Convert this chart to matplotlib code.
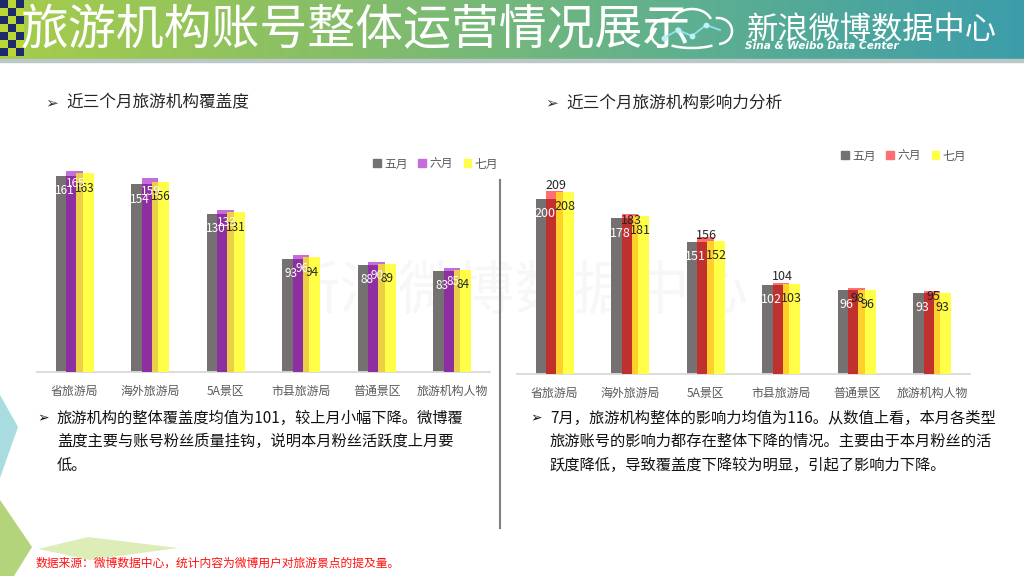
import numpy as np
import matplotlib
matplotlib.use("Agg")
import matplotlib.pyplot as plt
from matplotlib.patches import Polygon, Rectangle, Patch, Arc
from matplotlib.colors import LinearSegmentedColormap

plt.rcParams['font.family'] = ['Noto Sans CJK SC', 'DejaVu Sans']

# ---------------- data ----------------
categories = ['省旅游局', '海外旅游局', '5A景区', '市县旅游局', '普通景区', '旅游机构人物']
months = ['五月', '六月', '七月']
coverage_may = [161, 154, 130, 93, 88, 83]
coverage_jun = [165, 159, 133, 96, 90, 85]
coverage_jul = [163, 156, 131, 94, 89, 84]
influence_may = [200, 178, 151, 102, 96, 93]
influence_jun = [209, 183, 156, 104, 98, 95]
influence_jul = [208, 181, 152, 103, 96, 93]

title = '旅游机构账号整体运营情况展示'
left_sub = '近三个月旅游机构覆盖度'
right_sub = '近三个月旅游机构影响力分析'
left_lines = ['旅游机构的整体覆盖度均值为101，较上月小幅下降。微博覆',
              '盖度主要与账号粉丝质量挂钩，说明本月粉丝活跃度上月要',
              '低。']
right_lines = ['7月，旅游机构整体的影响力均值为116。从数值上看，本月各类型',
               '旅游账号的影响力都存在整体下降的情况。主要由于本月粉丝的活',
               '跃度降低，导致覆盖度下降较为明显，引起了影响力下降。']
footer = '数据来源：微博数据中心，统计内容为微博用户对旅游景点的提及量。'

W, H = 1024, 576
fig = plt.figure(figsize=(W / 100, H / 100), dpi=100)
fig.patch.set_facecolor('white')

bg = fig.add_axes([0, 0, 1, 1], zorder=0)
bg.set_xlim(0, W)
bg.set_ylim(H, 0)
bg.axis('off')

# title bar gradient
cmap = LinearSegmentedColormap.from_list('bar', ['#A6CC4A', '#86BE68', '#5FB08F', '#3C9DAA'])
grad = np.linspace(0, 1, 256).reshape(1, -1)
bg.imshow(grad, cmap=cmap, extent=[0, W, 60, 0], aspect='auto', zorder=1)
bg.add_patch(Rectangle((0, 59), W, 2.5, color='#BCC8C8', zorder=2))
# checker
for i in range(3):
    for j in range(7):
        c = '#1D2B6B' if (i + j) % 2 == 0 else '#BCD636'
        bg.add_patch(Rectangle((i * 8, j * 8), 8, 8, color=c, zorder=2, lw=0))

bg.text(21, 31, title, color='white', fontsize=34.5, va='center', ha='left', zorder=5)

# cloud logo (angles given for an inverted y axis)
for (cx, cy, w, h, t1, t2) in [(666, 33, 30, 28, 100, 280), (692, 24, 40, 30, 190, 345),
                               (718, 31, 28, 26, -100, 85), (692, 40, 56, 16, 15, 165)]:
    bg.add_patch(Arc((cx, cy), w, h, theta1=t1, theta2=t2, color='white', lw=1.8, zorder=6))
bg.plot([664, 678, 692, 706, 720], [38, 30, 36, 25, 30], color='#8FE3F0', lw=1.3, zorder=6)
bg.scatter([664, 678, 692, 706], [38, 30, 36, 25], s=10, color='#BDF2FA', zorder=7)
bg.text(747, 30, '新浪微博数据中心', color='white', fontsize=22.5, va='center', ha='left',
        zorder=5, style='italic')
bg.text(745, 46, 'Sina & Weibo Data Center', color='white', fontsize=7.6, va='center', ha='left',
        zorder=5, style='italic', fontweight='bold', family=['DejaVu Sans'])

# decorations
bg.add_patch(Polygon([(0, 395), (18, 427), (0, 478)], closed=True, color='#A8DCE1', lw=0, zorder=1))
bg.add_patch(Polygon([(0, 500), (32, 547), (14, 576), (0, 576)], closed=True, color='#B3D47A', lw=0, zorder=1))
bg.add_patch(Polygon([(38, 549), (88, 537), (178, 548), (90, 560)], closed=True, color='#DDEDB8', lw=0, zorder=1))

# watermark
bg.text(515, 292, '新浪微博数据中心', color='#F7F7F7', fontsize=42, ha='center', va='center',
        zorder=1, style='italic')

# separator
bg.plot([500, 500], [180, 528], color='#808080', lw=1.5, zorder=3)

# subtitles
for bx, s in [(45, left_sub), (545, right_sub)]:
    bg.text(bx, 103, '➢', fontsize=11, color='#333333', va='center', ha='left', zorder=5)
    bg.text(bx + 21, 103, s, fontsize=12, color='#262626', va='center', ha='left', zorder=5)

# paragraphs
for bx, lines in [(37, left_lines), (530, right_lines)]:
    bg.text(bx, 418, '➢', fontsize=10, color='#111111', va='center', ha='left', zorder=5)
    for k, ln in enumerate(lines):
        bg.text(bx + 20, 418 + k * 23.5, ln, fontsize=11.0, color='#111111', va='center',
                ha='left', zorder=5)

bg.text(36, 563, footer, fontsize=8.5, color='#FF1010', va='center', ha='left', zorder=5)

# ---------------- charts ----------------
def px_axes(x, y, w, h):
    return fig.add_axes([x / W, 1 - (y + h) / H, w / W, h / H], zorder=2)

# bar geometry (in category units)
G_L, G_W = -0.252, 0.274
M_L, M_W = -0.115, 0.221
Y_L, Y_W = 0.022, 0.230
LBL_X = [-0.135, 0.01, 0.137]


def draw_chart(ax, vals, colors, ov_colors, ymax, mid_lbl_color, mid_offsets, fs,
               legend_xy):
    a, b, c = [np.array(v) for v in vals]
    x = np.arange(len(categories))
    ax.set_xlim(-0.5, len(categories) - 0.5)
    ax.set_ylim(0, ymax)
    ax.patch.set_alpha(0)
    ax.bar(x + G_L, a, width=G_W, align='edge', color=colors[0], lw=0, zorder=2)
    ax.bar(x + M_L, b, width=M_W, align='edge', color=colors[1], lw=0, zorder=3)
    ax.bar(x + Y_L, c, width=Y_W, align='edge', color=colors[2], lw=0, zorder=4)
    ax.bar(x + M_L, np.minimum(a, b), width=G_L + G_W - M_L, align='edge',
           color=ov_colors[0], lw=0, zorder=5)
    ax.bar(x + Y_L, np.minimum(b, c), width=M_L + M_W - Y_L, align='edge',
           color=ov_colors[1], lw=0, zorder=5)
    for i in range(len(categories)):
        ax.annotate(str(a[i]), (x[i] + LBL_X[0], a[i]), xytext=(0, -15 * 0.72),
                    textcoords='offset points', ha='center', va='center', fontsize=fs,
                    color='white', zorder=7)
        ax.annotate(str(b[i]), (x[i] + LBL_X[1], b[i]), xytext=(0, mid_offsets[i] * 0.72),
                    textcoords='offset points', ha='center', va='center', fontsize=fs,
                    color=mid_lbl_color, zorder=8)
        ax.annotate(str(c[i]), (x[i] + LBL_X[2], c[i]), xytext=(0, -15 * 0.72),
                    textcoords='offset points', ha='center', va='center', fontsize=fs,
                    color='#262626', zorder=7)
    for s in ['top', 'right', 'left']:
        ax.spines[s].set_visible(False)
    ax.spines['bottom'].set_color('#D9D9D9')
    ax.spines['bottom'].set_linewidth(1.3)
    ax.set_yticks([])
    ax.set_xticks(x)
    ax.set_xticklabels(categories, fontsize=8.6, color='#595959')
    ax.tick_params(axis='x', length=0, pad=9.5)
    handles = [Patch(color=colors[k]) for k in range(3)]
    fig.legend(handles, months, loc='center left',
               bbox_to_anchor=(legend_xy[0] / W, 1 - legend_xy[1] / H),
               frameon=False, ncol=3, fontsize=8.5, handlelength=0.65, handleheight=0.65,
               handletextpad=0.3, columnspacing=0.9, labelcolor='#595959',
               borderaxespad=0, borderpad=0)


axL = px_axes(37, 140, 453, 232)
draw_chart(axL, [coverage_may, coverage_jun, coverage_jul],
           ['#767171', '#C66DDC', '#FFFF47'], ['#8D2FA0', '#EBCF45'],
           232 / 1.2184, 'white', [-13] * 6, 8.5, (373, 164))

axR = px_axes(517, 140, 453, 234)
draw_chart(axR, [influence_may, influence_jun, influence_jul],
           ['#767171', '#FF6F6F', '#FFFF47'], ['#C0302F', '#FFD02A'],
           234 / 0.8756, '#262626', [5, -7, 2, 6, -10, -6], 9, (841, 156))

fig.savefig('out.png', dpi=100)
